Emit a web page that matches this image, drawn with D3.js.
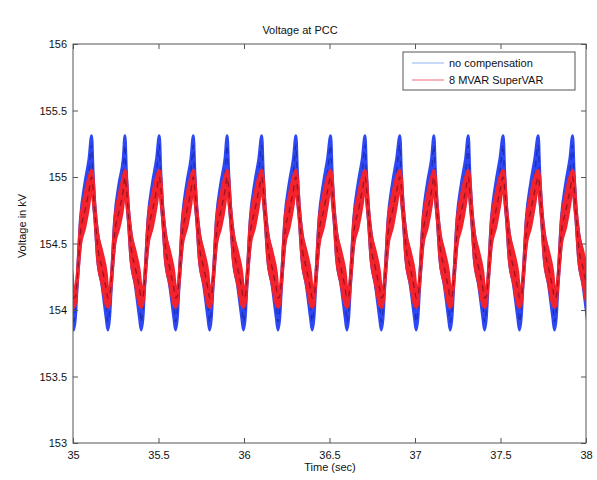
<!DOCTYPE html>
<html>
<head>
<meta charset="utf-8">
<script src="https://cdn.jsdelivr.net/npm/d3@7"></script>
<style>
  html, body { margin: 0; padding: 0; background: #fff; }
  text { font-family: "Liberation Sans", Arial, sans-serif; fill: #111; }
</style>
</head>
<body>
<svg id="chart" width="597" height="480"></svg>
<script>
// ---- data ----
const title = "Voltage at PCC";
const xLabel = "Time (sec)";
const yLabel = "Voltage in kV";
const seriesNames = ["no compensation", "8 MVAR SuperVAR"];
const xTicks = [35, 35.5, 36, 36.5, 37, 37.5, 38];
const xTickLabels = ["35", "35.5", "36", "36.5", "37", "37.5", "38"];
const yTicks = [153, 153.5, 154, 154.5, 155, 155.5, 156];
const yTickLabels = ["153", "153.5", "154", "154.5", "155", "155.5", "156"];
// times of the voltage peaks (sec)
const peakTimes = [34.909, 35.109, 35.304, 35.505, 35.704, 35.902, 36.104, 36.304,
                   36.507, 36.708, 36.912, 37.111, 37.312, 37.516, 37.721, 37.922];
// sample points inside one cycle, as seconds after each peak
const cycleOffsets = [0, 0.008, 0.02, 0.035, 0.06, 0.085, 0.095, 0.105, 0.115, 0.135, 0.16, 0.185];
// no compensation: centre voltage (kV) and half spread of the ripple band (kV)
const blueCycle  = [155.24, 154.96, 154.72, 154.48, 154.30, 154.05, 153.91, 154.00, 154.20, 154.60, 154.84, 155.04];
const blueSpread = [0.07, 0.09, 0.05, 0.10, 0.11, 0.11, 0.06, 0.06, 0.03, 0.09, 0.11, 0.10];
// 8 MVAR SuperVAR: centre voltage (kV) and half spread of the ripple band (kV)
const redCycle   = [155.00, 154.92, 154.72, 154.48, 154.32, 154.16, 154.09, 154.10, 154.22, 154.58, 154.74, 154.90];
const redSpread  = [0.05, 0.08, 0.05, 0.10, 0.12, 0.12, 0.07, 0.05, 0.03, 0.09, 0.12, 0.10];

// ---- layout ----
const svg = d3.select("#chart");
const m = { left: 73, right: 586, top: 44, bottom: 443 };
const x = d3.scaleLinear().domain([35, 38]).range([m.left, m.right]);
const y = d3.scaleLinear().domain([153, 156]).range([m.bottom, m.top]);

function buildSeries(shape, spread) {
  const pts = [];
  peakTimes.forEach(p => cycleOffsets.forEach((o, i) =>
    pts.push({ t: p + o, v: shape[i], s: spread[i] })));
  return pts;
}
const blue = buildSeries(blueCycle, blueSpread);
const red = buildSeries(redCycle, redSpread);

svg.append("defs").append("clipPath").attr("id", "clip")
  .append("rect").attr("x", m.left).attr("y", m.top)
  .attr("width", m.right - m.left).attr("height", m.bottom - m.top);

const area = d3.area().x(d => x(d.t)).y0(d => y(d.v - d.s)).y1(d => y(d.v + d.s))
  .curve(d3.curveMonotoneX);
const line = d3.line().x(d => x(d.t)).y(d => y(d.v)).curve(d3.curveMonotoneX);
const g = svg.append("g").attr("clip-path", "url(#clip)");

function drawBand(data, color, dark) {
  g.append("path").datum(data).attr("d", area).attr("fill", color)
    .attr("stroke", color).attr("stroke-width", 3).attr("stroke-linejoin", "round");
  g.append("path").datum(data).attr("d", line).attr("fill", "none")
    .attr("stroke", dark).attr("stroke-width", 1.3).attr("stroke-opacity", 0.5)
    .attr("stroke-dasharray", "6,5");
}
drawBand(blue, "#2d48f2", "#0a1580");
drawBand(red, "#f3232e", "#4a0010");

// ---- axes (MATLAB style: ticks inside, box) ----
const axisColor = "#555";
const tl = 5;
svg.append("rect").attr("x", m.left).attr("y", m.top)
  .attr("width", m.right - m.left).attr("height", m.bottom - m.top)
  .attr("fill", "none").attr("stroke", axisColor).attr("stroke-width", 1);

const xb = svg.append("g").attr("transform", `translate(0,${m.bottom})`)
  .call(d3.axisBottom(x).tickValues(xTicks).tickSizeInner(-tl).tickSizeOuter(0)
    .tickPadding(8).tickFormat((d, i) => xTickLabels[i]));
const xt = svg.append("g").attr("transform", `translate(0,${m.top})`)
  .call(d3.axisTop(x).tickValues(xTicks).tickSizeInner(-tl).tickSizeOuter(0).tickFormat(""));
const yl = svg.append("g").attr("transform", `translate(${m.left},0)`)
  .call(d3.axisLeft(y).tickValues(yTicks).tickSizeInner(-tl).tickSizeOuter(0)
    .tickPadding(6).tickFormat((d, i) => yTickLabels[i]));
const yr = svg.append("g").attr("transform", `translate(${m.right},0)`)
  .call(d3.axisRight(y).tickValues(yTicks).tickSizeInner(-tl).tickSizeOuter(0).tickFormat(""));
[xb, xt, yl, yr].forEach(a => {
  a.select(".domain").remove();
  a.selectAll(".tick line").attr("stroke", axisColor);
  a.selectAll(".tick text").attr("font-size", 11).attr("fill", "#111")
    .attr("font-family", '"Liberation Sans", Arial, sans-serif');
});

// ---- labels ----
svg.append("text").attr("x", 300).attr("y", 34).attr("text-anchor", "middle")
  .attr("font-size", 11).text(title);
svg.append("text").attr("x", 330).attr("y", 471).attr("text-anchor", "middle")
  .attr("font-size", 11).text(xLabel);
svg.append("text").attr("transform", "translate(26,226) rotate(-90)")
  .attr("text-anchor", "middle").attr("font-size", 11).text(yLabel);

// ---- legend ----
const lg = svg.append("g");
lg.append("rect").attr("x", 403).attr("y", 52).attr("width", 172).attr("height", 38)
  .attr("fill", "#fff").attr("stroke", "#555").attr("stroke-width", 1);
const legendColors = ["#8fb4f0", "#f06a72"];
seriesNames.forEach((n, i) => {
  const yy = 63 + i * 17;
  lg.append("line").attr("x1", 412).attr("x2", 444).attr("y1", yy).attr("y2", yy)
    .attr("stroke", legendColors[i]).attr("stroke-width", 1);
  lg.append("text").attr("x", 449).attr("y", yy + 4).attr("font-size", 11).text(n);
});
</script>
</body>
</html>
